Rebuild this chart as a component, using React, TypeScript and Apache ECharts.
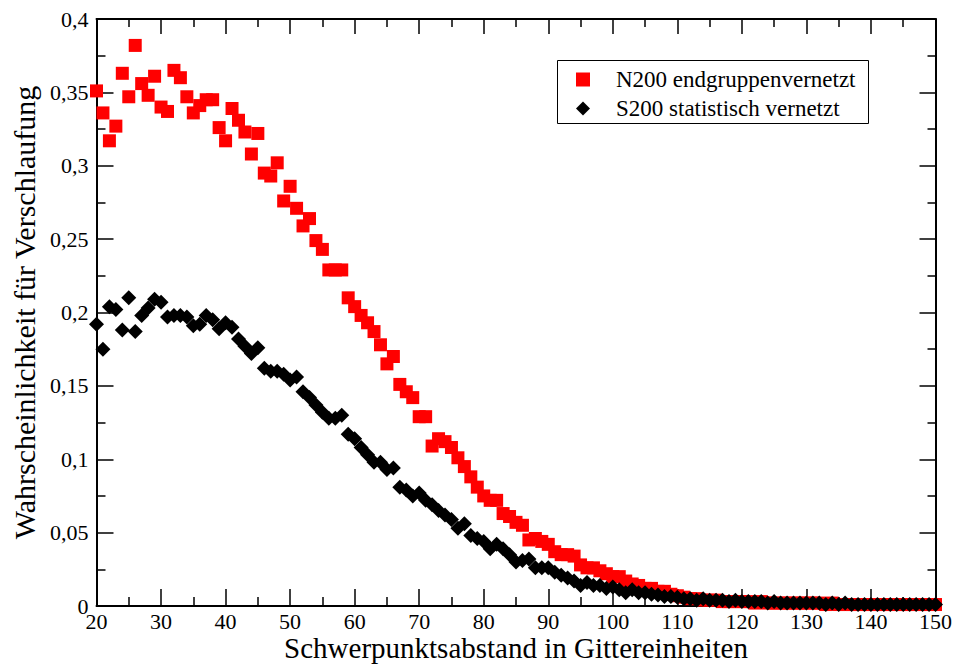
import React, { useEffect, useRef } from "react";
import * as echarts from "echarts";

const distances = [
  20, 21, 22, 23, 24, 25, 26, 27, 28, 29, 30, 31, 32, 33, 34, 35, 36, 37, 38, 39,
  40, 41, 42, 43, 44, 45, 46, 47, 48, 49, 50, 51, 52, 53, 54, 55, 56, 57, 58, 59,
  60, 61, 62, 63, 64, 65, 66, 67, 68, 69, 70, 71, 72, 73, 74, 75, 76, 77, 78, 79,
  80, 81, 82, 83, 84, 85, 86, 87, 88, 89, 90, 91, 92, 93, 94, 95, 96, 97, 98, 99,
  100, 101, 102, 103, 104, 105, 106, 107, 108, 109, 110, 111, 112, 113, 114, 115, 116, 117, 118, 119,
  120, 121, 122, 123, 124, 125, 126, 127, 128, 129, 130, 131, 132, 133, 134, 135, 136, 137, 138, 139,
  140, 141, 142, 143, 144, 145, 146, 147, 148, 149, 150,
];

const n200Endgruppen = [
  0.351, 0.336, 0.317, 0.327, 0.363, 0.347, 0.382, 0.356, 0.348, 0.361,
  0.340, 0.337, 0.365, 0.360, 0.347, 0.336, 0.341, 0.345, 0.345, 0.326,
  0.317, 0.339, 0.331, 0.323, 0.308, 0.322, 0.295, 0.293, 0.302, 0.276,
  0.286, 0.271, 0.259, 0.264, 0.249, 0.243, 0.229, 0.229, 0.229, 0.210,
  0.204, 0.198, 0.193, 0.187, 0.178, 0.165, 0.170, 0.151, 0.146, 0.142,
  0.129, 0.129, 0.109, 0.114, 0.112, 0.108, 0.101, 0.095, 0.088, 0.081,
  0.075, 0.072, 0.072, 0.063, 0.061, 0.057, 0.055, 0.045, 0.046, 0.044,
  0.042, 0.037, 0.035, 0.035, 0.034, 0.028, 0.026, 0.026, 0.024, 0.022,
  0.020, 0.020, 0.017, 0.015, 0.014, 0.012, 0.012, 0.010, 0.010, 0.008,
  0.007, 0.006, 0.005, 0.005, 0.004, 0.004, 0.004, 0.003, 0.003, 0.003,
  0.003, 0.003, 0.002, 0.003, 0.002, 0.002, 0.002, 0.002, 0.002, 0.002,
  0.002, 0.002, 0.002, 0.001, 0.002, 0.001, 0.001, 0.001, 0.001, 0.001,
  0.001, 0.001, 0.001, 0.001, 0.001, 0.001, 0.001, 0.001, 0.001, 0.001,
  0.001,
];

const s200Statistisch = [
  0.192, 0.175, 0.204, 0.202, 0.188, 0.210, 0.187, 0.198, 0.203, 0.209,
  0.207, 0.197, 0.198, 0.198, 0.197, 0.191, 0.192, 0.198, 0.195, 0.189,
  0.193, 0.190, 0.182, 0.177, 0.172, 0.176, 0.162, 0.160, 0.160, 0.158,
  0.154, 0.156, 0.146, 0.142, 0.137, 0.132, 0.128, 0.128, 0.130, 0.117,
  0.114, 0.108, 0.103, 0.098, 0.098, 0.093, 0.094, 0.081, 0.079, 0.075,
  0.077, 0.072, 0.069, 0.065, 0.062, 0.059, 0.053, 0.056, 0.048, 0.046,
  0.044, 0.039, 0.042, 0.039, 0.035, 0.030, 0.031, 0.032, 0.026, 0.026,
  0.026, 0.023, 0.021, 0.019, 0.017, 0.014, 0.016, 0.014, 0.014, 0.012,
  0.013, 0.011, 0.009, 0.011, 0.009, 0.009, 0.008, 0.0075, 0.0065, 0.0065,
  0.006, 0.005, 0.005, 0.004, 0.005, 0.004, 0.004, 0.004, 0.003, 0.004,
  0.003, 0.003, 0.003, 0.003, 0.002, 0.003, 0.002, 0.002, 0.002, 0.002,
  0.002, 0.002, 0.002, 0.001, 0.002, 0.001, 0.002, 0.001, 0.001, 0.001,
  0.001, 0.001, 0.001, 0.001, 0.001, 0.001, 0.001, 0.001, 0.001, 0.001,
  0.001,
];

const seriesNames = ["N200 endgruppenvernetzt", "S200 statistisch vernetzt"];
const xTitle = "Schwerpunktsabstand in Gittereinheiten";
const yTitle = "Wahrscheinlichkeit für Verschlaufung";

const FONT = "Liberation Serif, Times New Roman, DejaVu Serif, serif";

const fmt = (v: number) => String(Math.round(v * 1000) / 1000).replace(".", ",");

export default function App() {
  const ref = useRef<HTMLDivElement>(null);
  useEffect(() => {
    if (!ref.current) return;
    const chart = echarts.init(ref.current, null, { renderer: "svg" });
    const axisLine = { show: true, onZero: false, lineStyle: { color: "#000", width: 2 } };
    const tick = (len: number) => ({ show: true, inside: true, length: len, lineStyle: { color: "#000", width: 1.5 } });
    const minor = (len: number) => ({ show: true, splitNumber: 2, length: len, lineStyle: { color: "#000", width: 1.5 } });
    const redData = distances.map((d, i) => [d, n200Endgruppen[i]]);
    const blackData = distances.map((d, i) => [d, s200Statistisch[i]]);
    chart.setOption({
      animation: false,
      backgroundColor: "#fff",
      textStyle: { fontFamily: FONT },
      grid: { left: 96.5, top: 19, width: 839, height: 587, containLabel: false, outerBoundsMode: "none" },
      xAxis: [
        {
          type: "value", min: 20, max: 150, interval: 10, position: "bottom",
          axisLine, axisTick: tick(17), minorTick: minor(9),
          splitLine: { show: false }, minorSplitLine: { show: false },
          axisLabel: { fontSize: 22, lineHeight: 20, color: "#000", fontFamily: FONT, margin: 5 },
          name: xTitle, nameLocation: "middle", nameGap: 29, nameMoveOverlap: false,
          nameTextStyle: { fontSize: 29, color: "#000", fontFamily: FONT, lineHeight: 26 },
        },
        {
          type: "value", min: 20, max: 150, interval: 10, position: "top",
          axisLine, axisTick: tick(15), minorTick: minor(8),
          splitLine: { show: false }, axisLabel: { show: false },
        },
      ],
      yAxis: [
        {
          type: "value", min: 0, max: 0.4, interval: 0.05, position: "left",
          axisLine, axisTick: tick(17), minorTick: minor(9),
          splitLine: { show: false }, minorSplitLine: { show: false },
          axisLabel: { fontSize: 22, color: "#000", fontFamily: FONT, margin: 8, formatter: fmt },
          name: yTitle, nameLocation: "middle", nameGap: 56,
          nameTextStyle: { fontSize: 30, color: "#000", fontFamily: FONT },
        },
        {
          type: "value", min: 0, max: 0.4, interval: 0.05, position: "right",
          axisLine, axisTick: tick(16), minorTick: minor(8),
          splitLine: { show: false }, axisLabel: { show: false },
        },
      ],
      legend: {
        data: seriesNames,
        orient: "vertical",
        left: 576,
        top: 68,
        padding: 0,
        itemWidth: 14,
        itemHeight: 14,
        itemGap: 6,
        formatter: "{a|{name}}",
        textStyle: {
          color: "#000",
          fontFamily: FONT,
          fontSize: 23,
          rich: { a: { fontSize: 23, fontFamily: FONT, color: "#000", lineHeight: 23, padding: [0, 0, 0, 21] } },
        },
      },
      graphic: [
        {
          type: "rect",
          shape: { x: 557.5, y: 60.5, width: 311, height: 63 },
          style: { fill: "none", stroke: "#000", lineWidth: 1 },
          z: 100,
        },
      ],
      series: [
        {
          name: seriesNames[0], type: "scatter", symbol: "rect", symbolSize: 13,
          itemStyle: { color: "#ff0000", opacity: 1 }, data: redData,
          xAxisIndex: 0, yAxisIndex: 0, z: 2,
        },
        {
          name: seriesNames[1], type: "scatter", symbol: "diamond", symbolSize: 15,
          itemStyle: { color: "#000", opacity: 1 }, data: blackData,
          xAxisIndex: 0, yAxisIndex: 0, z: 3,
        },
      ],
    });
    return () => chart.dispose();
  }, []);
  return (
    <div
      ref={ref}
      style={{ position: "absolute", left: 0, top: 0, width: 954, height: 666, background: "#fff" }}
    />
  );
}
